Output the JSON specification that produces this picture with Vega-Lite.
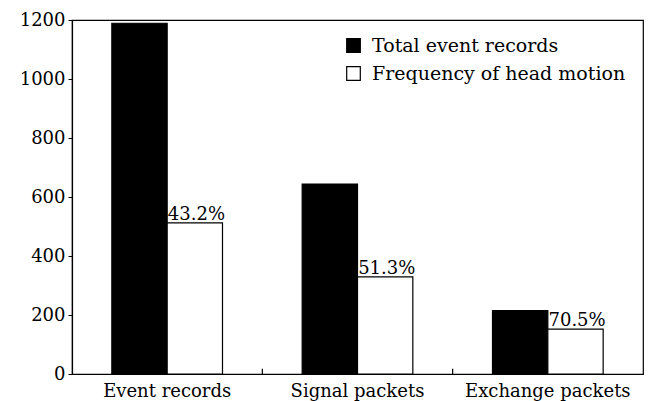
{
  "$schema": "https://vega.github.io/schema/vega-lite/v6.json",
  "width": 571,
  "height": 354,
  "autosize": {"type": "none"},
  "padding": {"left": 72, "top": 20, "right": 10, "bottom": 27},
  "background": "white",
  "config": {
    "view": {"stroke": "black", "strokeWidth": 1.2},
    "font": "DejaVu Serif",
    "axis": {"labelFont": "DejaVu Serif", "labelColor": "black", "domainColor": "black", "tickColor": "black", "grid": false, "title": null}
  },
  "data": {
    "values": [
      {"category": "Event records", "series": "Total event records", "value": 1189, "label": ""},
      {"category": "Event records", "series": "Frequency of head motion", "value": 512, "label": "43.2%"},
      {"category": "Signal packets", "series": "Total event records", "value": 644, "label": ""},
      {"category": "Signal packets", "series": "Frequency of head motion", "value": 329, "label": "51.3%"},
      {"category": "Exchange packets", "series": "Total event records", "value": 215, "label": ""},
      {"category": "Exchange packets", "series": "Frequency of head motion", "value": 152, "label": "70.5%"}
    ]
  },
  "encoding": {
    "x": {
      "field": "category", "type": "nominal", "sort": null,
      "scale": {"paddingInner": 0, "paddingOuter": 0},
      "axis": {"labelAngle": 0, "labelFontSize": 18, "ticks": false, "labelPadding": 8, "domainWidth": 1.2}
    },
    "xOffset": {
      "field": "series", "type": "nominal",
      "sort": ["Total event records", "Frequency of head motion"],
      "scale": {"paddingInner": 0, "paddingOuter": 0.72}
    },
    "y": {
      "field": "value", "type": "quantitative",
      "scale": {"domain": [0, 1200], "nice": false},
      "axis": {"values": [0, 200, 400, 600, 800, 1000, 1200], "format": "d", "labelFontSize": 18, "tickSize": 4, "labelPadding": 3, "domainWidth": 1.2}
    }
  },
  "layer": [
    {
      "mark": {"type": "bar", "stroke": "black", "strokeWidth": 1.2},
      "encoding": {
        "fill": {
          "field": "series", "type": "nominal",
          "sort": ["Total event records", "Frequency of head motion"],
          "scale": {"domain": ["Total event records", "Frequency of head motion"], "range": ["black", "white"]},
          "legend": {
            "title": null, "orient": "none", "legendX": 272, "legendY": 16,
            "symbolType": "square", "symbolSize": 185, "symbolStrokeColor": "black", "symbolStrokeWidth": 1.2,
            "labelFontSize": 19, "labelFont": "DejaVu Serif", "labelColor": "black", "labelOffset": 9,
            "rowPadding": 8, "labelLimit": 400
          }
        }
      }
    },
    {
      "transform": [{"filter": "datum.label != ''"}],
      "mark": {"type": "text", "align": "left", "baseline": "alphabetic", "dx": -27, "dy": -3, "fontSize": 18, "font": "DejaVu Serif", "color": "black"},
      "encoding": {"text": {"field": "label"}}
    },
    {
      "transform": [{"filter": "datum.series == 'Total event records' && datum.category != 'Event records'"}],
      "mark": {"type": "rule", "color": "black", "strokeWidth": 1.2},
      "encoding": {
        "x": {"field": "category", "type": "nominal", "sort": null, "bandPosition": 0},
        "xOffset": null,
        "y": {"datum": 0},
        "y2": {"datum": 18}
      }
    }
  ]
}
